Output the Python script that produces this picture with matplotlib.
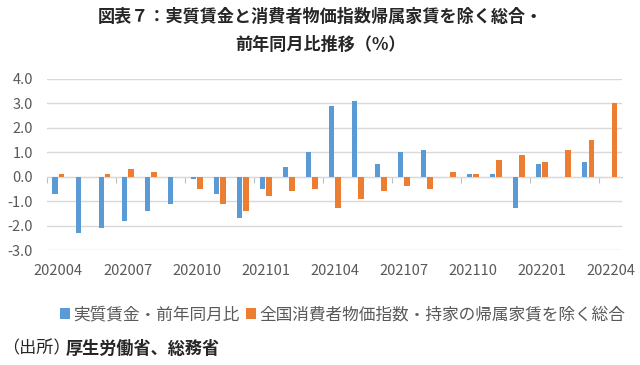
import numpy as np
import matplotlib
matplotlib.use("Agg")
import matplotlib.pyplot as plt
from matplotlib.patches import Patch
from matplotlib.ticker import FixedLocator, FuncFormatter

plt.rcParams["font.family"] = ["Noto Sans CJK JP", "DejaVu Sans"]

months = ["202004", "202005", "202006", "202007", "202008", "202009",
          "202010", "202011", "202012", "202101", "202102", "202103",
          "202104", "202105", "202106", "202107", "202108", "202109",
          "202110", "202111", "202112", "202201", "202202", "202203",
          "202204"]
real_wage = [-0.7, -2.3, -2.1, -1.8, -1.4, -1.1, -0.1, -0.7, -1.7, -0.5, 0.4, 1.0,
             2.9, 3.1, 0.5, 1.0, 1.1, 0.0, 0.1, 0.1, -1.3, 0.5, 0.0, 0.6, 0.0]
cpi_ex_rent = [0.1, 0.0, 0.1, 0.3, 0.2, 0.0, -0.5, -1.1, -1.4, -0.8, -0.6, -0.5,
               -1.3, -0.9, -0.6, -0.4, -0.5, 0.2, 0.1, 0.7, 0.9, 0.6, 1.1, 1.5, 3.0]

label_wage = "実質賃金・前年同月比"
label_cpi = "全国消費者物価指数・持家の帰属家賃を除く総合"

BLUE = "#5B9BD5"
ORANGE = "#ED7D31"
GRAY = "#595959"

fig = plt.figure(figsize=(6.4, 3.65), dpi=100, facecolor="white")
ax = fig.add_axes([0.0734, 0.315, 0.899, 0.469])

x = np.arange(len(months))
w = 0.23
off = 0.145
ax.bar(x - off, real_wage, width=w, color=BLUE, zorder=3)
ax.bar(x + off, cpi_ex_rent, width=w, color=ORANGE, zorder=3)

ax.set_xlim(-0.5, len(months) - 0.5)
ax.set_ylim(-3.0, 4.0)
ax.set_yticks(np.arange(-3, 5, 1.0))
ax.yaxis.set_major_formatter(FuncFormatter(lambda v, _p: f"{v:.1f}"))
ax.grid(True, axis="y", color="#D9D9D9", linewidth=1.0, zorder=0)

for s in ["top", "right", "left", "bottom"]:
    ax.spines[s].set_visible(False)

# category labels at the bottom, every 3 months
ax.set_xticks(x[::3], [months[i] for i in x[::3]])
ax.tick_params(axis="x", length=0, labelsize=10.5, labelcolor=GRAY, pad=10)
ax.tick_params(axis="y", length=0, labelsize=10.5, labelcolor=GRAY, pad=10)

# category axis crossing at zero with tick marks between groups
zero_frac = (0 - (-3.0)) / 7.0
sec = ax.secondary_xaxis(zero_frac)
sec.spines["bottom"].set_color("#BFBFBF")
sec.xaxis.set_major_locator(FixedLocator(np.arange(-0.5, len(months), 3)))
sec.tick_params(axis="x", direction="out", length=4, color="#BFBFBF",
                labelbottom=False)
sec.set_xticklabels([])

fig.text(0.5, 0.953, "図表７：実質賃金と消費者物価指数帰属家賃を除く総合・",
         ha="center", va="center", fontsize=12.3, fontweight="bold", color="#262626")
fig.text(0.5, 0.877, "前年同月比推移（%）",
         ha="center", va="center", fontsize=12.3, fontweight="bold", color="#262626")

handles = [Patch(facecolor=BLUE, label=label_wage),
           Patch(facecolor=ORANGE, label=label_cpi)]
fig.legend(handles=handles, loc="center", bbox_to_anchor=(0.535, 0.137), ncol=2,
           frameon=False, fontsize=12, labelcolor=GRAY,
           handlelength=0.6, handleheight=0.6, handletextpad=0.2,
           columnspacing=0.4)

fig.text(0.003, 0.045, "（出所）", ha="left", va="center", fontsize=12.3,
         color="#262626")
fig.text(0.103, 0.045, "厚生労働省、総務省", ha="left", va="center",
         fontsize=12.3, fontweight="bold", color="#262626")

fig.savefig("out.png", dpi=100, facecolor="white")
